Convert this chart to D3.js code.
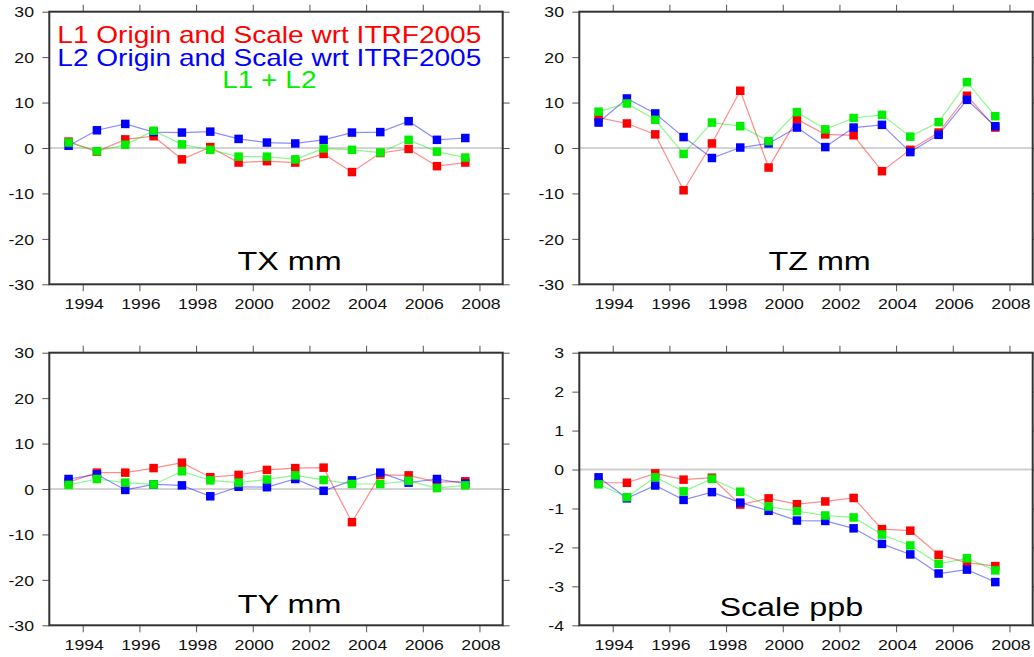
<!DOCTYPE html>
<html>
<head>
<meta charset="utf-8">
<script src="https://cdn.jsdelivr.net/npm/d3@7"></script>
<style>
  html, body { margin: 0; padding: 0; background: #fff; }
  svg { display: block; font-family: "Liberation Sans", Arial, Helvetica, sans-serif; }
</style>
</head>
<body>
<svg id="chart" width="1034" height="657"></svg>
<script>
// epochs (mid-year) of each solution
const years = [1993.5, 1994.5, 1995.5, 1996.5, 1997.5, 1998.5, 1999.5, 2000.5,
               2001.5, 2002.5, 2003.5, 2004.5, 2005.5, 2006.5, 2007.5]
const yearTicks = [1994, 1996, 1998, 2000, 2002, 2004, 2006, 2008]

// TX mm
const txL1  = [1.4, -0.8, 1.9, 2.6, -2.5, 0.2, -3.2, -2.9, -3.2, -1.3, -5.3, -1.1, -0.2, -4.0, -3.2]
const txL2  = [0.5, 3.9, 5.3, 3.5, 3.4, 3.6, 2.0, 1.2, 1.0, 1.8, 3.4, 3.5, 5.9, 1.8, 2.2]
const txL12 = [1.2, -0.7, 0.7, 3.8, 0.8, -0.4, -1.9, -1.9, -2.5, -0.1, -0.4, -1.0, 1.8, -0.8, -2.1]

// TZ mm
const tzL1  = [6.7, 5.4, 3.0, -9.3, 1.0, 12.6, -4.3, 6.3, 3.0, 2.8, -5.1, -0.4, 3.4, 11.5, 4.5]
const tzL2  = [5.6, 10.9, 7.6, 2.4, -2.2, 0.1, 1.0, 4.5, 0.2, 4.5, 5.1, -0.9, 2.9, 10.6, 4.8]
const tzL12 = [8.0, 9.8, 6.2, -1.3, 5.6, 4.8, 1.5, 7.9, 4.1, 6.6, 7.3, 2.5, 5.7, 14.5, 7.0]

// TY mm
const tyL1  = [1.5, 3.6, 3.6, 4.6, 5.8, 2.6, 3.1, 4.2, 4.6, 4.7, -7.3, 3.1, 3.0, 1.5, 1.7]
const tyL2  = [2.2, 3.2, -0.2, 1.0, 0.8, -1.6, 0.5, 0.4, 2.2, -0.4, 1.9, 3.6, 1.4, 2.2, 1.2]
const tyL12 = [0.9, 2.2, 1.4, 1.0, 3.9, 1.9, 1.4, 2.1, 3.0, 2.0, 1.1, 1.1, 1.8, 0.2, 0.8]

// Scale ppb
const scL1  = [-0.34, -0.34, -0.10, -0.26, -0.21, -0.90, -0.74, -0.89, -0.82, -0.73, -1.53, -1.57, -2.19, -2.39, -2.48]
const scL2  = [-0.20, -0.74, -0.41, -0.78, -0.58, -0.85, -1.06, -1.31, -1.32, -1.51, -1.91, -2.18, -2.67, -2.57, -2.89]
const scL12 = [-0.38, -0.71, -0.20, -0.56, -0.24, -0.57, -0.95, -1.07, -1.18, -1.23, -1.67, -1.95, -2.42, -2.28, -2.59]

const legendLines = ["L1 Origin and Scale wrt ITRF2005", "L2 Origin and Scale wrt ITRF2005", "L1 + L2"]
const seriesColors = ["#ff0000", "#0000ff", "#00ee00"]

const panels = [
  {title: "TX mm",     col: 0, row: 0, yDomain: [-30, 30], yTicks: [-30, -20, -10, 0, 10, 20, 30], series: [txL1, txL2, txL12], titleAt: [2001.3, -26.9]},
  {title: "TZ mm",     col: 1, row: 0, yDomain: [-30, 30], yTicks: [-30, -20, -10, 0, 10, 20, 30], series: [tzL1, tzL2, tzL12], titleAt: [2001.3, -26.9]},
  {title: "TY mm",     col: 0, row: 1, yDomain: [-30, 30], yTicks: [-30, -20, -10, 0, 10, 20, 30], series: [tyL1, tyL2, tyL12], titleAt: [2001.3, -27.4]},
  {title: "Scale ppb", col: 1, row: 1, yDomain: [-4, 3],   yTicks: [-4, -3, -2, -1, 0, 1, 2, 3],     series: [scL1, scL2, scL12], titleAt: [2000.3, -3.77]}
]

const svg = d3.select("#chart")

const SX = 1.22           // the original glyphs are horizontally stretched
const plotW = 453.4
const plotH = 272.6
const lefts = [49.3, 579.3]
const tops = [11.7, 352.7]
const tickLen = 7
const plainNum = d => String(d)   // hyphen minus like the original, not U+2212

const x = d3.scaleLinear().domain([1992.82, 2008.82]).range([0, plotW])

function stretched(g, px, py, txt) {
  return g.append("text")
    .attr("transform", `translate(${px},${py}) scale(${SX},1)`)
    .text(txt)
}

panels.forEach(p => {
  const y = d3.scaleLinear().domain(p.yDomain).range([plotH, 0])
  const g = svg.append("g")
    .attr("transform", `translate(${lefts[p.col]},${tops[p.row]})`)

  // zero line
  g.append("line")
    .attr("x1", 0).attr("x2", plotW)
    .attr("y1", y(0)).attr("y2", y(0))
    .attr("stroke", p.col === 1 && p.row === 1 ? "#cfcfcf" : "#a8a8a8")
    .attr("stroke-width", p.col === 1 && p.row === 1 ? 2 : 1)

  // axes: ticks on all sides, labels on left and bottom
  const yLeft = g.append("g")
    .call(d3.axisLeft(y).tickValues(p.yTicks).tickFormat(plainNum).tickSize(tickLen).tickSizeOuter(0))
  yLeft.selectAll("text")
    .attr("x", null)
    .attr("dy", null)
    .attr("font-size", 14.5)
    .attr("fill", "#111")
    .attr("transform", `translate(-15.3,5.2) scale(${SX},1)`)

  const xBottom = g.append("g")
    .attr("transform", `translate(0,${plotH})`)
    .call(d3.axisBottom(x).tickValues(yearTicks).tickFormat(plainNum).tickSize(tickLen).tickSizeOuter(0))
  xBottom.selectAll("text")
    .attr("y", null)
    .attr("dy", null)
    .attr("font-size", 14.5)
    .attr("fill", "#111")
    .attr("transform", `translate(1,24.5) scale(${SX},1)`)

  g.append("g")
    .call(d3.axisTop(x).tickValues(yearTicks).tickFormat("").tickSize(tickLen).tickSizeOuter(0))
  g.append("g")
    .attr("transform", `translate(${plotW},0)`)
    .call(d3.axisRight(y).tickValues(p.yTicks).tickFormat("").tickSize(tickLen).tickSizeOuter(0))

  g.selectAll(".domain").remove()
  g.selectAll(".tick line").attr("stroke", "#555")

  // frame
  g.append("rect")
    .attr("width", plotW).attr("height", plotH)
    .attr("fill", "none")
    .attr("stroke", "#333")
    .attr("stroke-width", 2)

  // series: red first, then blue, green on top
  const line = d3.line().x((d, i) => x(years[i])).y(d => y(d))
  p.series.forEach((vals, k) => {
    g.append("path")
      .datum(vals)
      .attr("d", line)
      .attr("fill", "none")
      .attr("stroke", seriesColors[k])
      .attr("stroke-opacity", 0.45)
      .attr("stroke-width", 1.2)
    g.selectAll(null)
      .data(vals)
      .join("rect")
      .attr("x", (d, i) => x(years[i]) - 4.25)
      .attr("y", d => y(d) - 4.25)
      .attr("width", 8.5)
      .attr("height", 8.5)
      .attr("fill", seriesColors[k])
  })

  // panel title
  stretched(g, x(p.titleAt[0]), y(p.titleAt[1]), p.title)
    .attr("text-anchor", "middle")
    .attr("font-size", 26.5)
    .attr("fill", "#000")

  // legend, top-left panel only
  if (p.col === 0 && p.row === 0) {
    const baselines = [31.3, 53.8, 76.3]
    legendLines.forEach((t, k) => {
      stretched(g, 220, baselines[k], t)
        .attr("text-anchor", "middle")
        .attr("font-size", 23)
        .attr("fill", seriesColors[k])
    })
  }
})
</script>
</body>
</html>
